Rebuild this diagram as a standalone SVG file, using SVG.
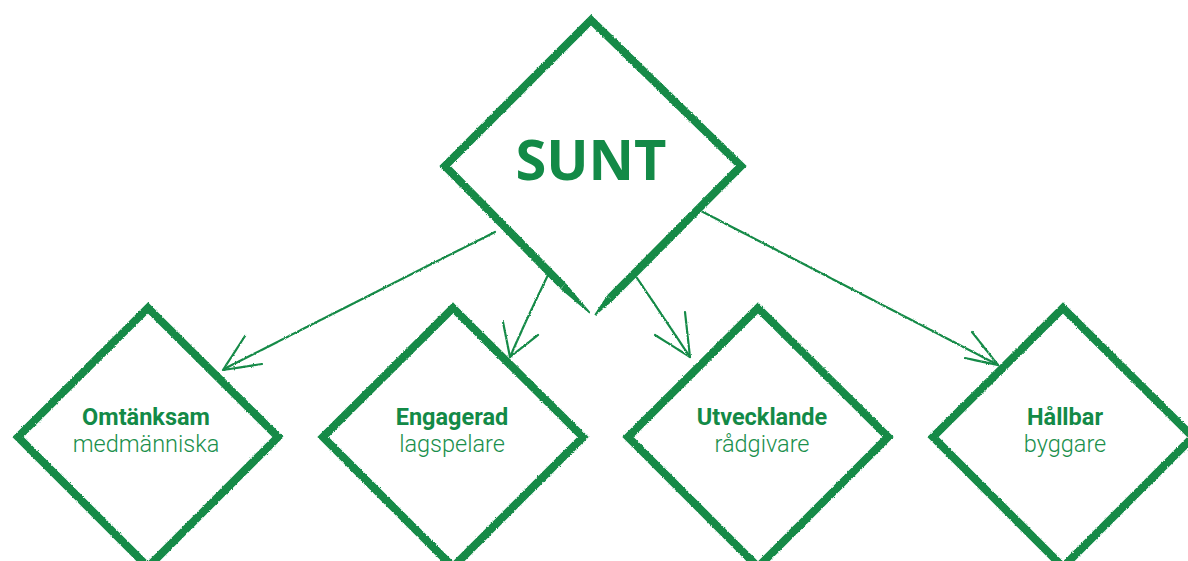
<svg xmlns="http://www.w3.org/2000/svg" width="1188" height="561" viewBox="0 0 1188 561">
  <style>
    .edge { fill: none; stroke: #138a47; stroke-width: 8; stroke-linejoin: miter; stroke-miterlimit: 4; }
    .taper { fill: #138a47; stroke: none; }
    .arrow { fill: none; stroke: #138a47; stroke-width: 2.2; stroke-linecap: round; stroke-linejoin: round; stroke-dasharray: 11 1.2 6 1 4 1.2; }
    .title { font-family: "Open Sans", "DejaVu Sans", sans-serif; font-weight: 700; font-size: 56px; fill: #138a47; text-anchor: middle; }
    .lbl { font-family: Roboto, "Liberation Sans", sans-serif; font-size: 23.5px; fill: #138a47; text-anchor: middle; }
    .lbl-b { font-weight: 700; }
    .lbl-r { font-weight: 300; fill: #1a8f4c; }
  </style>
  <defs>
    <!-- ragged brush edge for the diamond outlines -->
    <filter id="rough" filterUnits="userSpaceOnUse" x="0" y="0" width="1188" height="561">
      <feTurbulence type="fractalNoise" baseFrequency="0.8" numOctaves="2" seed="3" result="noise"/>
      <feDisplacementMap in="SourceGraphic" in2="noise" scale="2.6" xChannelSelector="R" yChannelSelector="G"/>
    </filter>
    <!-- grainy pencil look for the arrows -->
    <filter id="chalk" filterUnits="userSpaceOnUse" x="0" y="0" width="1188" height="561">
      <feTurbulence type="fractalNoise" baseFrequency="1.1" numOctaves="2" seed="7" result="noise"/>
      <feDisplacementMap in="SourceGraphic" in2="noise" scale="2.2" xChannelSelector="R" yChannelSelector="G"/>
    </filter>
  </defs>

  <rect width="1188" height="561" fill="#ffffff"/>

  <!-- top diamond -->
  <g id="node-sunt">
    <g filter="url(#rough)">
      <path class="edge" d="M563,286 L445,166 L591,20 L741,166 L610,298"/>
      <!-- lower edges thin out towards the bottom point -->
      <polygon class="taper" points="560.2,288.8 565.8,283.2 590.6,312.4 589.4,313.6"/>
      <polygon class="taper" points="607.2,295.2 612.8,300.8 595.6,315.4 594.4,314.6"/>
    </g>
    <text class="title" x="591" y="180">SUNT</text>
  </g>

  <!-- lower row -->
  <g id="node-omtanksam">
    <path class="edge" filter="url(#rough)" d="M148,308 L278,437 L148,567 L18,437 Z"/>
    <text class="lbl lbl-b" x="146" y="425">Omtänksam</text>
    <text class="lbl lbl-r" x="146" y="452">medmänniska</text>
  </g>

  <g id="node-engagerad">
    <path class="edge" filter="url(#rough)" d="M453,308 L583,437 L453,567 L323,437 Z"/>
    <text class="lbl lbl-b" x="452" y="425">Engagerad</text>
    <text class="lbl lbl-r" x="452" y="452">lagspelare</text>
  </g>

  <g id="node-utvecklande">
    <path class="edge" filter="url(#rough)" d="M758,308 L888,437 L758,567 L628,437 Z"/>
    <text class="lbl lbl-b" x="762" y="425">Utvecklande</text>
    <text class="lbl lbl-r" x="762" y="452">rådgivare</text>
  </g>

  <g id="node-hallbar">
    <path class="edge" filter="url(#rough)" d="M1063,308 L1193,437 L1063,567 L933,437 Z"/>
    <text class="lbl lbl-b" x="1065" y="425">Hållbar</text>
    <text class="lbl lbl-r" x="1065" y="452">byggare</text>
  </g>

  <!-- connectors -->
  <g id="connectors" filter="url(#chalk)">
    <g id="edge-sunt-omtanksam">
      <path class="arrow" d="M495,232 Q360,300 224,369"/>
      <path class="arrow" d="M245,336 L223,370 L262,364"/>
    </g>
    <g id="edge-sunt-engagerad">
      <path class="arrow" d="M548,275 Q527,318 510,357"/>
      <path class="arrow" d="M503,322 L510,357 L538,335"/>
    </g>
    <g id="edge-sunt-utvecklande">
      <path class="arrow" d="M637,278 Q664,318 690,357"/>
      <path class="arrow" d="M685,312 L690,357 L655,335"/>
    </g>
    <g id="edge-sunt-hallbar">
      <path class="arrow" d="M703,212 Q850,288 998,365"/>
      <path class="arrow" d="M972,332 L998,365 L965,358"/>
    </g>
  </g>
</svg>
